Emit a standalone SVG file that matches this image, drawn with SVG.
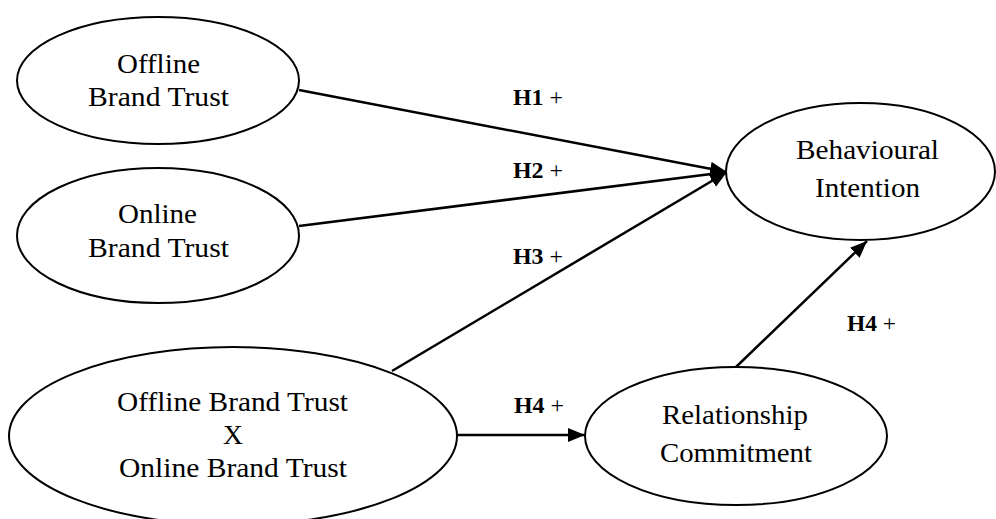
<svg xmlns="http://www.w3.org/2000/svg" width="996" height="519" viewBox="0 0 996 519">
<style>
.node ellipse{fill:#fff;stroke:#000;stroke-width:2}
.node text{font-family:"Liberation Serif","Times New Roman",serif;font-size:28px;fill:#000;text-anchor:middle}
.lbl{font-family:"Liberation Serif","Times New Roman",serif;font-size:24px;fill:#000}
.lbl .b{font-weight:bold}
#connectors line{stroke:#000;stroke-width:2.5;fill:none;marker-end:url(#ah)}
</style>
<defs>
<marker id="ah" markerUnits="userSpaceOnUse" markerWidth="18" markerHeight="15" refX="17" refY="7" orient="auto">
<path d="M0,0 L17,7 L0,14 z" fill="#000"/>
</marker>
</defs>
<rect width="996" height="519" fill="#fff"/>
<g id="connectors">
<line x1="299" y1="90" x2="727" y2="172"/>
<line x1="299" y1="226" x2="727" y2="172"/>
<line x1="392" y1="371" x2="727" y2="172"/>
<line x1="456" y1="435" x2="585" y2="435"/>
<line x1="736" y1="367" x2="867" y2="241"/>
</g>
<g id="labels">
<text class="lbl" x="513" y="105" textLength="50" lengthAdjust="spacingAndGlyphs"><tspan class="b">H1</tspan> +</text>
<text class="lbl" x="513" y="178" textLength="50" lengthAdjust="spacingAndGlyphs"><tspan class="b">H2</tspan> +</text>
<text class="lbl" x="513" y="264" textLength="50" lengthAdjust="spacingAndGlyphs"><tspan class="b">H3</tspan> +</text>
<text class="lbl" x="847" y="331" textLength="49" lengthAdjust="spacingAndGlyphs"><tspan class="b">H4</tspan> +</text>
<text class="lbl" x="514" y="413" textLength="50" lengthAdjust="spacingAndGlyphs"><tspan class="b">H4</tspan> +</text>
</g>
<g id="offline" class="node">
<ellipse cx="158" cy="80.5" rx="141" ry="63.5"/>
<text x="158.5" y="73" textLength="83" lengthAdjust="spacingAndGlyphs">Offline</text>
<text x="158.5" y="106" textLength="141" lengthAdjust="spacingAndGlyphs">Brand Trust</text>
</g>
<g id="online" class="node">
<ellipse cx="158" cy="235.5" rx="141" ry="67.5"/>
<text x="157.5" y="223" textLength="79" lengthAdjust="spacingAndGlyphs">Online</text>
<text x="158.5" y="257" textLength="141" lengthAdjust="spacingAndGlyphs">Brand Trust</text>
</g>
<g id="interaction" class="node">
<ellipse cx="233" cy="436" rx="224" ry="89"/>
<text x="232.5" y="411" textLength="231" lengthAdjust="spacingAndGlyphs">Offline Brand Trust</text>
<text x="233" y="444" textLength="20" lengthAdjust="spacingAndGlyphs">X</text>
<text x="233" y="477" textLength="228" lengthAdjust="spacingAndGlyphs">Online Brand Trust</text>
</g>
<g id="commitment" class="node">
<ellipse cx="736" cy="436" rx="151" ry="69"/>
<text x="735" y="424" textLength="146" lengthAdjust="spacingAndGlyphs">Relationship</text>
<text x="736" y="462" textLength="152" lengthAdjust="spacingAndGlyphs">Commitment</text>
</g>
<g id="intention" class="node">
<ellipse cx="860.5" cy="171.5" rx="134.5" ry="68.5"/>
<text x="867.5" y="159" textLength="143" lengthAdjust="spacingAndGlyphs">Behavioural</text>
<text x="867.5" y="197" textLength="105" lengthAdjust="spacingAndGlyphs">Intention</text>
</g>
</svg>
